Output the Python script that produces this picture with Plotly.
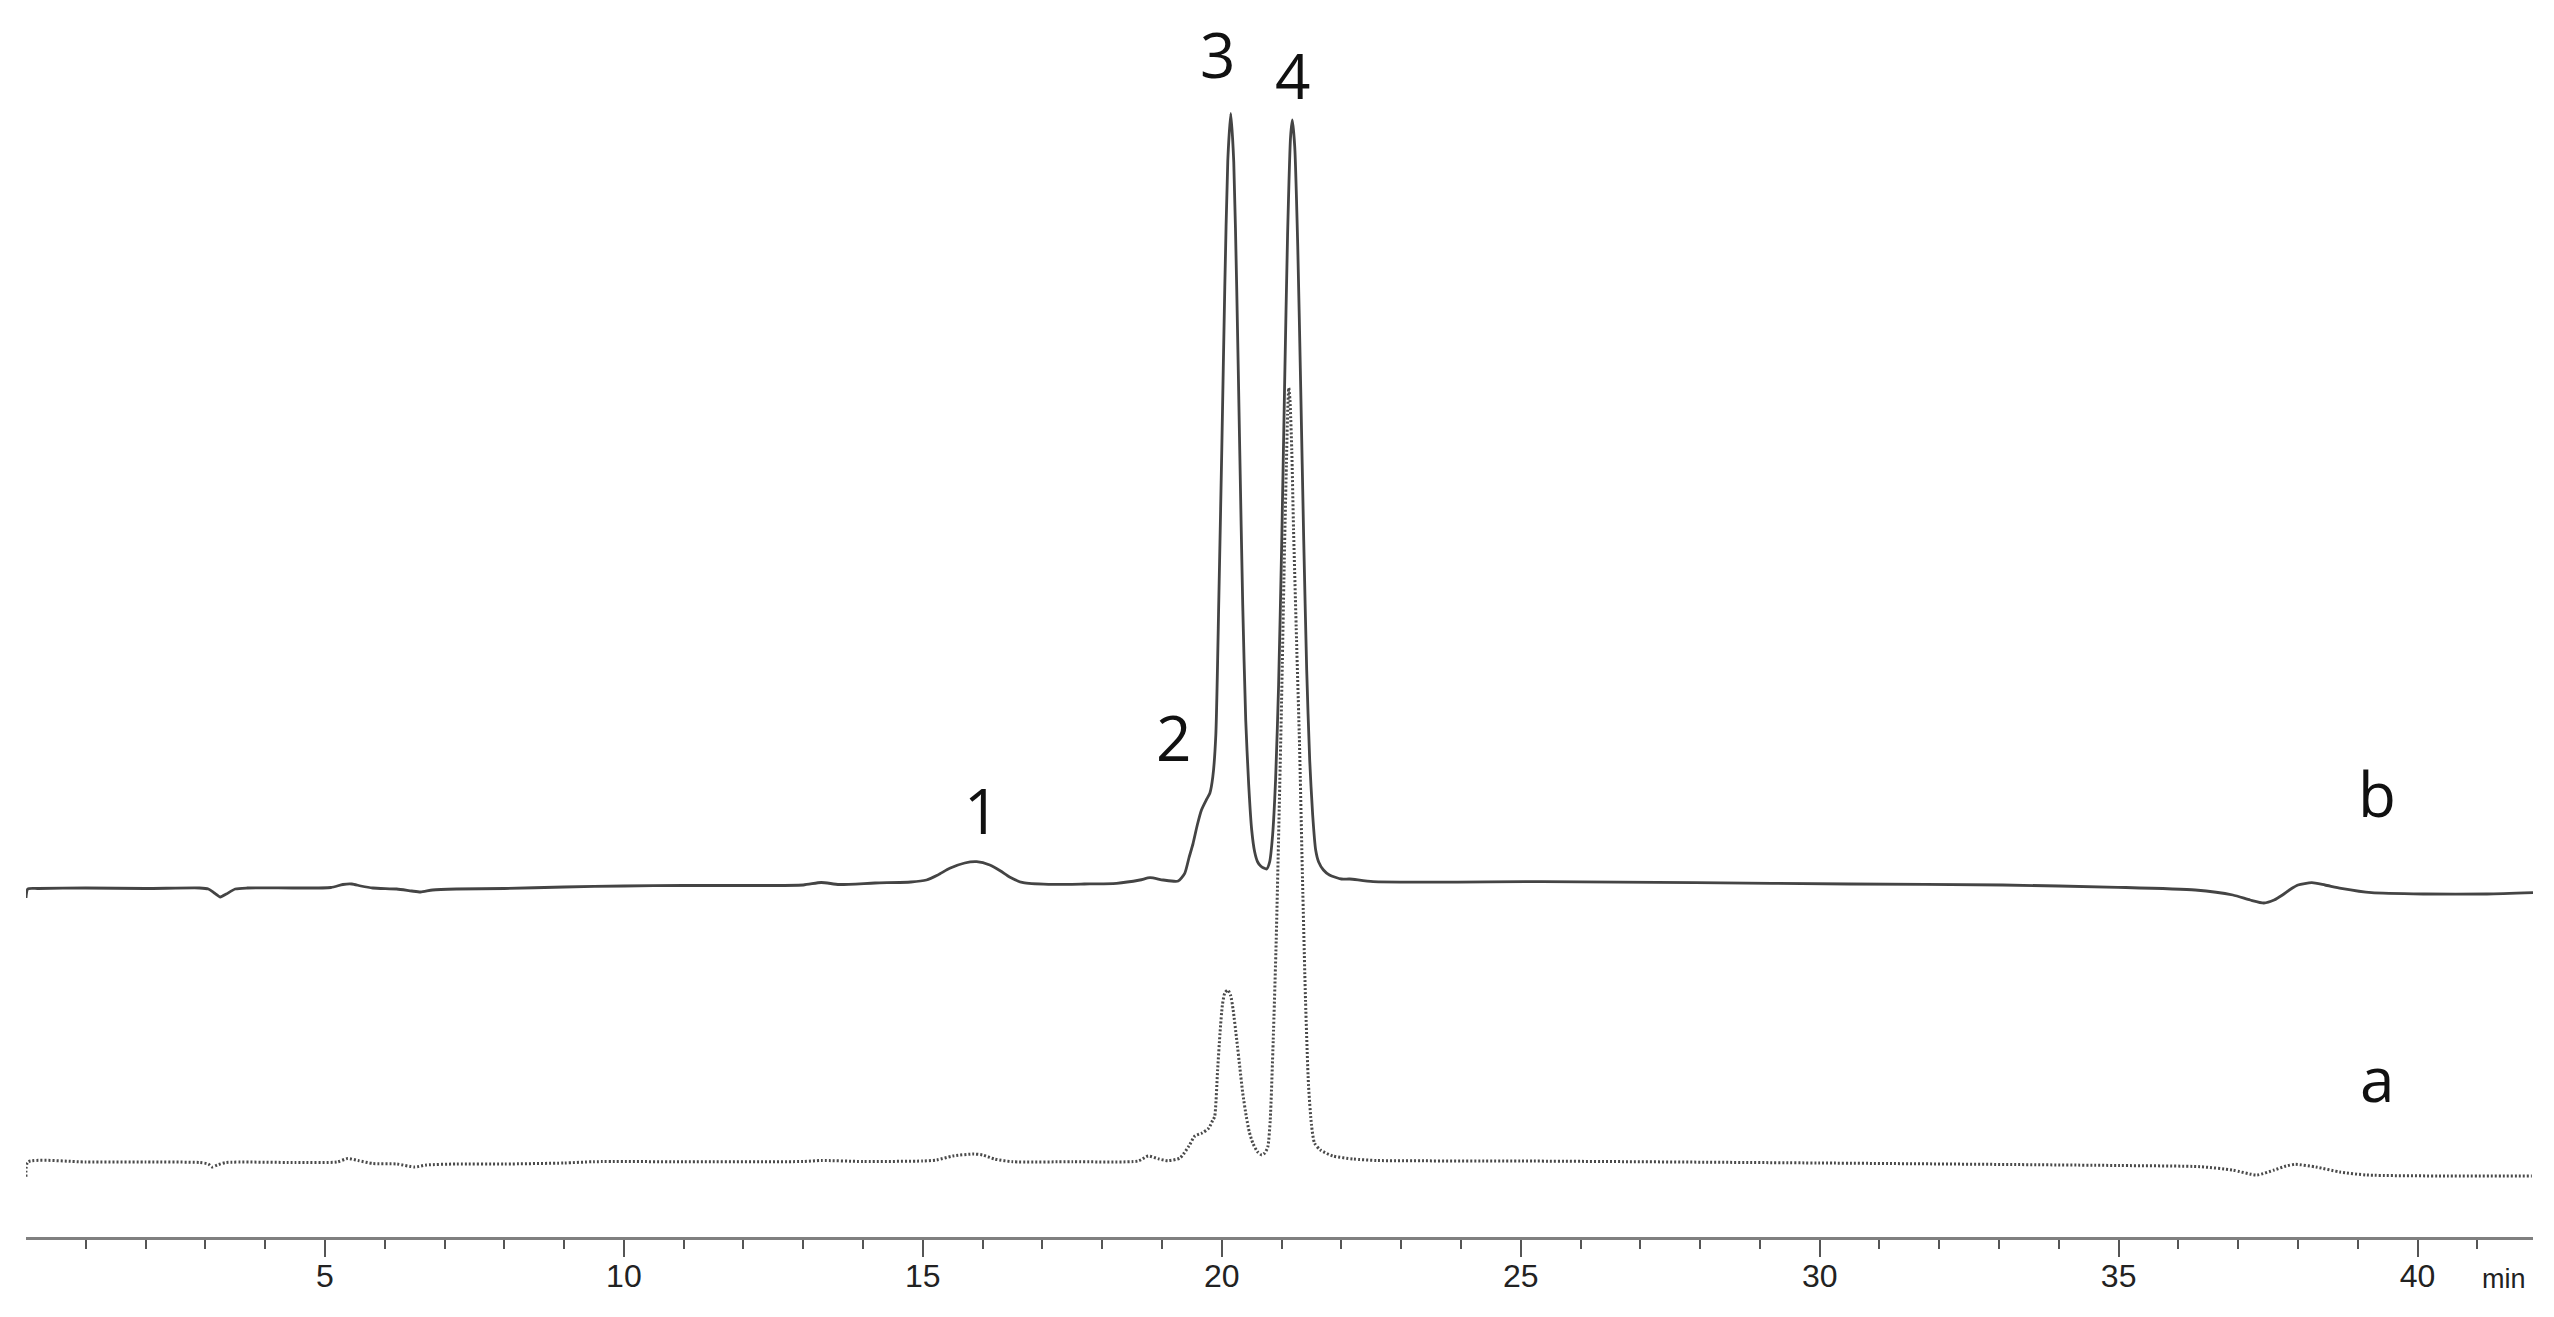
import plotly.graph_objects as go

# Chromatogram b (upper, solid): retention time (min) and detector signal
B_TIME = [0.00, 0.03, 0.20, 1.00, 2.00, 2.90, 3.05, 3.15, 3.25, 3.35, 3.50, 3.70, 4.50,
          5.10, 5.30, 5.45, 5.60, 5.80, 6.20, 6.45, 6.60, 6.80, 7.20, 8.00, 9.00, 10.00,
          11.00, 12.00, 13.00, 13.30, 13.60, 14.20, 14.80, 15.06, 15.25, 15.45, 15.70,
          15.90, 16.12, 16.30, 16.45, 16.68, 17.10, 17.70, 18.24, 18.63, 18.80, 19.02,
          19.27, 19.38, 19.45, 19.52, 19.59, 19.66, 19.74, 19.80, 19.85, 19.90, 19.95,
          20.00, 20.05, 20.10, 20.15, 20.20, 20.25, 20.30, 20.35, 20.40, 20.45, 20.50,
          20.55, 20.60, 20.65, 20.70, 20.75, 20.80, 20.85, 20.90, 20.95, 21.00, 21.05,
          21.10, 21.15, 21.18, 21.22, 21.27, 21.32, 21.37, 21.42, 21.47, 21.52, 21.57,
          21.62, 21.70, 21.80, 22.00, 22.14, 22.53, 25.35, 27.92, 30.49, 33.06, 34.99,
          36.28, 36.91, 37.20, 37.43, 37.60, 37.74, 37.88, 38.00, 38.23, 38.45, 38.72,
          39.23, 40.12, 41.16, 41.93]
B_SIGNAL = [-0.9, 0.0, 0.05, 0.1, 0.05, 0.1, 0.0, -0.4, -0.8, -0.5, 0.0, 0.1, 0.1,
            0.15, 0.45, 0.5, 0.3, 0.1, 0.0, -0.2, -0.3, -0.1, 0.0, 0.05, 0.2, 0.3,
            0.35, 0.35, 0.4, 0.65, 0.45, 0.6, 0.7, 0.9, 1.4, 2.07, 2.6,
            2.73, 2.4, 1.8, 1.2, 0.63, 0.47, 0.5, 0.57, 0.9, 1.13, 0.9,
            0.8, 1.57, 3.1, 4.57, 6.4, 7.9, 8.9, 9.57, 11.23, 15.4, 28.9,
            44.0, 60.2, 72.8, 77.55, 72.7, 59.9, 43.9, 28.4, 16.9, 10.4, 5.9,
            3.7, 2.7, 2.3, 2.1, 2.0, 2.7, 5.4, 11.0, 20.4, 34.0, 50.2,
            65.4, 75.2, 76.9, 74.2, 64.3, 50.0, 34.9, 21.9, 12.9, 7.4, 3.9,
            2.7, 1.9, 1.4, 1.0, 1.0, 0.73, 0.73, 0.63, 0.5, 0.4, 0.17,
            -0.1, -0.6, -1.1, -1.4, -1.1, -0.6, 0.0, 0.4, 0.63, 0.4, 0.07,
            -0.37, -0.5, -0.5, -0.37]

# Chromatogram a (lower, dotted)
A_TIME = [0.00, 0.03, 1.00, 2.00, 2.90, 3.05, 3.11, 3.20, 3.35, 4.50, 5.20, 5.38, 5.55,
          5.80, 6.20, 6.50, 6.70, 7.20, 8.00, 9.00, 9.50, 11.00, 13.00, 13.30, 14.00,
          15.00, 15.23, 15.50, 15.85, 16.00, 16.20, 16.50, 17.50, 18.60, 18.77, 18.95,
          19.10, 19.30, 19.45, 19.55, 19.67, 19.78, 19.85, 19.88, 19.93, 19.97, 20.01,
          20.05, 20.10, 20.15, 20.19, 20.25, 20.30, 20.35, 20.41, 20.46, 20.52, 20.60,
          20.67, 20.72, 20.77, 20.81, 20.86, 20.91, 20.96, 21.00, 21.05, 21.08, 21.10,
          21.12, 21.14, 21.17, 21.20, 21.25, 21.30, 21.35, 21.40, 21.45, 21.50, 21.55,
          21.65, 21.86, 22.20, 22.60, 25.00, 30.00, 35.00, 36.36, 36.90, 37.31, 37.60,
          37.80, 37.95, 38.30, 38.70, 39.15, 40.50, 41.91]
A_SIGNAL = [-1.47, 0.0, 0.0, 0.0, -0.05, -0.2, -0.5, -0.3, -0.05, -0.05, 0.0, 0.35, 0.15,
            -0.15, -0.2, -0.5, -0.3, -0.2, -0.2, -0.1, 0.03, 0.03, 0.05, 0.15, 0.05,
            0.1, 0.2, 0.6, 0.8, 0.7, 0.3, 0.03, 0.03, 0.1, 0.6, 0.3,
            0.13, 0.4, 1.6, 2.6, 2.9, 3.37, 4.2, 4.53, 9.2, 12.9, 15.7,
            16.9, 17.2, 16.6, 15.2, 12.2, 9.53, 6.9, 4.53, 3.0, 1.87, 1.0,
            0.7, 0.9, 1.53, 4.2, 12.2, 22.2, 35.2, 46.2, 61.7, 69.7, 74.7,
            77.4, 76.2, 71.2, 63.2, 52.2, 41.7, 28.2, 16.2, 7.7, 3.7, 1.9,
            1.2, 0.6, 0.3, 0.15, 0.1, -0.1, -0.35, -0.47, -0.8, -1.3, -0.8,
            -0.4, -0.23, -0.5, -1.0, -1.3, -1.4, -1.4]

# vertical offsets used to stack the two runs
A_OFFSET = 7.5
B_OFFSET = 34.8

# peak numbers and trace names
PEAK_LABELS = ["1", "2", "4"]
PEAK_X = [15.98, 19.20, 21.18]
PEAK_Y = [42.7, 50.0, 116.2]
TOP_LABEL = "3"      # sits against the top edge, anchored by its top
TOP_LABEL_X = 19.92
TRACE_LABELS = ["b", "a"]
TRACE_LABEL_X = [39.32, 39.32]
TRACE_LABEL_Y = [44.4, 15.9]

MAJOR_TICKS = [5, 10, 15, 20, 25, 30, 35, 40]
MINOR_TICKS = [t for t in range(1, 42) if t % 5 != 0]

fig = go.Figure()
fig.add_trace(go.Scatter(
    x=A_TIME, y=[v + A_OFFSET for v in A_SIGNAL], mode="lines",
    line=dict(color="#4a4a4a", width=3, dash="2px,2px", shape="spline", smoothing=0.6),
    hoverinfo="skip"))
fig.add_trace(go.Scatter(
    x=B_TIME, y=[v + B_OFFSET for v in B_SIGNAL], mode="lines",
    line=dict(color="#444444", width=2.8, shape="spline", smoothing=0.6),
    hoverinfo="skip"))

label_font = dict(family="Open Sans, Noto Sans, sans-serif", size=62, color="#111")
for txt, x, y in zip(PEAK_LABELS + TRACE_LABELS, PEAK_X + TRACE_LABEL_X, PEAK_Y + TRACE_LABEL_Y):
    fig.add_annotation(x=x, y=y, text=txt, showarrow=False, font=label_font,
                       xanchor="center", yanchor="middle")
fig.add_annotation(x=TOP_LABEL_X, y=0.998, yref="paper", text=TOP_LABEL, showarrow=False,
                   font=label_font, xanchor="center", yanchor="top")

fig.add_annotation(x=41.45, xref="x", y=-0.034, yref="paper", text="min", showarrow=False,
                   font=dict(family="Liberation Sans Narrow, Liberation Sans, Arial", size=27, color="#222"),
                   xanchor="center", yanchor="middle")

# the page body adds an 8 px margin, so the plot area is pulled up/left by that much
fig.update_layout(
    width=2554, height=1317,
    margin=dict(l=18, r=29, t=0, b=88),
    plot_bgcolor="white", paper_bgcolor="white",
    showlegend=False,
)
fig.update_xaxes(
    range=[0, 41.93], showgrid=False, zeroline=False,
    showline=True, linecolor="#808080", linewidth=3,
    tickmode="array", tickvals=MAJOR_TICKS, ticktext=[str(t) for t in MAJOR_TICKS],
    ticks="outside", ticklen=17, tickwidth=2, tickcolor="#555",
    ticklabelstandoff=-8,
    tickfont=dict(family="Liberation Sans Narrow, Liberation Sans, Arial", size=32, color="#222"),
    minor=dict(tickmode="array", tickvals=MINOR_TICKS, ticks="outside",
               ticklen=9, tickwidth=2, tickcolor="#555", showgrid=False),
)
fig.update_yaxes(range=[0, 122.9], visible=False)

fig.write_html("out.html")
